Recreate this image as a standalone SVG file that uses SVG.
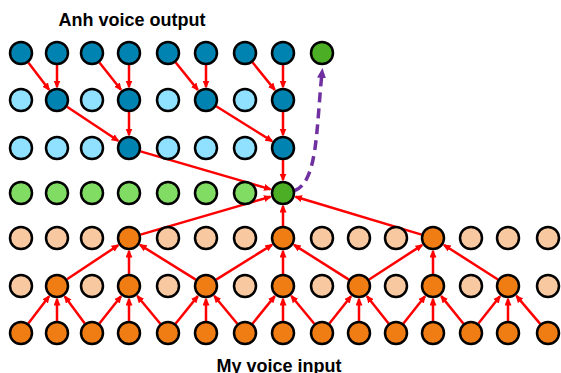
<svg xmlns="http://www.w3.org/2000/svg" width="561" height="373" viewBox="0 0 561 373">
  <style>
    .n { stroke: #000; stroke-width: 2.5; }
    .db { fill: #0083B0; }
    .lb { fill: #90E0FF; }
    .dg { fill: #4BAE25; }
    .lg { fill: #80DC62; }
    .or { fill: #F07C14; }
    .pe { fill: #F8C8A0; }
    .e { stroke: #FF0000; stroke-width: 2.5; fill: none; marker-end: url(#ah); }
    .gen { stroke: #7030A0; stroke-width: 3.5; fill: none; stroke-dasharray: 10 6; marker-end: url(#ahp); }
    .t { font-family: "Liberation Sans", Arial, sans-serif; font-weight: bold; font-size: 18px; fill: #000; text-anchor: middle; }
  </style>
  <defs>
    <marker id="ah" markerUnits="userSpaceOnUse" markerWidth="9" markerHeight="8" refX="6.5" refY="3.5" orient="auto">
      <path d="M0,0 L8,3.5 L0,7 z" fill="#FF0000"/>
    </marker>
    <marker id="ahp" markerUnits="userSpaceOnUse" markerWidth="11" markerHeight="10" refX="5" refY="4.5" orient="auto">
      <path d="M0,0 L10,4.5 L0,9 z" fill="#7030A0"/>
    </marker>
    <circle id="c" r="11"/>
  </defs>

  <text class="t" x="132" y="26">Anh voice output</text>
  <text class="t" x="279" y="372">My voice input</text>

  <g id="connectors">
    <!-- input layer -> first hidden layer (dilation 1) -->
    <line class="e" x1="28.3" y1="323.5" x2="49.1" y2="296.3"/>
    <line class="e" x1="57" y1="321" x2="57" y2="299"/>
    <line class="e" x1="84.8" y1="323.4" x2="64.8" y2="296.4"/>
    <line class="e" x1="99.4" y1="323.6" x2="121" y2="296.2"/>
    <line class="e" x1="129" y1="321" x2="129" y2="299"/>
    <line class="e" x1="160.3" y1="323.8" x2="137.3" y2="296"/>
    <line class="e" x1="175.5" y1="323.7" x2="197.8" y2="296.1"/>
    <line class="e" x1="206" y1="321" x2="206" y2="299"/>
    <line class="e" x1="237.3" y1="323.8" x2="214.3" y2="296"/>
    <line class="e" x1="252.5" y1="323.7" x2="274.8" y2="296.1"/>
    <line class="e" x1="283" y1="321" x2="283" y2="299"/>
    <line class="e" x1="314.3" y1="323.8" x2="291.3" y2="296"/>
    <line class="e" x1="329.4" y1="323.6" x2="351" y2="296.2"/>
    <line class="e" x1="359" y1="321" x2="359" y2="299"/>
    <line class="e" x1="388.6" y1="323.6" x2="367" y2="296.2"/>
    <line class="e" x1="403.4" y1="323.6" x2="425" y2="296.2"/>
    <line class="e" x1="433" y1="321" x2="433" y2="299"/>
    <line class="e" x1="463.5" y1="323.7" x2="441.2" y2="296.1"/>
    <line class="e" x1="478.4" y1="323.6" x2="500" y2="296.2"/>
    <line class="e" x1="508" y1="321" x2="508" y2="299"/>
    <line class="e" x1="540.2" y1="323.9" x2="516.4" y2="295.9"/>
    <!-- first hidden -> second hidden (dilation 2) -->
    <line class="e" x1="67" y1="279.3" x2="118.2" y2="245.2"/>
    <line class="e" x1="129" y1="274" x2="129" y2="251"/>
    <line class="e" x1="195.8" y1="279.6" x2="140" y2="244.9"/>
    <line class="e" x1="216.2" y1="279.6" x2="272" y2="244.9"/>
    <line class="e" x1="283" y1="274" x2="283" y2="251"/>
    <line class="e" x1="348.9" y1="279.6" x2="294" y2="244.9"/>
    <line class="e" x1="369.1" y1="279.5" x2="422.1" y2="245.1"/>
    <line class="e" x1="433" y1="274" x2="433" y2="251"/>
    <line class="e" x1="497.9" y1="279.5" x2="444" y2="245"/>
    <!-- second hidden -> bottleneck -->
    <line class="e" x1="140.5" y1="234.6" x2="270.5" y2="196.7"/>
    <line class="e" x1="283" y1="226" x2="283" y2="206"/>
    <line class="e" x1="421.5" y1="234.6" x2="295.5" y2="196.7"/>
    <!-- decoder side: upper layers -> bottleneck -->
    <line class="e" x1="140.5" y1="151.4" x2="270.5" y2="189.3"/>
    <line class="e" x1="283" y1="160" x2="283" y2="180"/>
    <line class="e" x1="67" y1="106.7" x2="118.2" y2="140.8"/>
    <line class="e" x1="129" y1="112" x2="129" y2="135"/>
    <line class="e" x1="216.2" y1="106.3" x2="272" y2="141.1"/>
    <line class="e" x1="283" y1="112" x2="283" y2="135"/>
    <line class="e" x1="28.3" y1="62.5" x2="49.1" y2="89.7"/>
    <line class="e" x1="57" y1="65" x2="57" y2="87"/>
    <line class="e" x1="99.4" y1="62.4" x2="121" y2="89.8"/>
    <line class="e" x1="129" y1="65" x2="129" y2="87"/>
    <line class="e" x1="175.5" y1="62.3" x2="197.8" y2="89.9"/>
    <line class="e" x1="206" y1="65" x2="206" y2="87"/>
    <line class="e" x1="252.5" y1="62.3" x2="274.8" y2="89.9"/>
    <line class="e" x1="283" y1="65" x2="283" y2="87"/>
    <!-- generated sample fed to the output -->
    <path class="gen" d="M294,191 C318,182 316,130 322,73"/>
  </g>

  <!-- output row -->
  <g id="o1"><use href="#c" class="n db" x="21" y="53"/></g>
  <g id="o2"><use href="#c" class="n db" x="57" y="53"/></g>
  <g id="o3"><use href="#c" class="n db" x="92" y="53"/></g>
  <g id="o4"><use href="#c" class="n db" x="129" y="53"/></g>
  <g id="o5"><use href="#c" class="n db" x="168" y="53"/></g>
  <g id="o6"><use href="#c" class="n db" x="206" y="53"/></g>
  <g id="o7"><use href="#c" class="n db" x="245" y="53"/></g>
  <g id="o8"><use href="#c" class="n db" x="283" y="53"/></g>
  <g id="o9"><use href="#c" class="n dg" x="322" y="53"/></g>
  <!-- upper layer 2 -->
  <g id="u1"><use href="#c" class="n lb" x="21" y="100"/></g>
  <g id="u2"><use href="#c" class="n db" x="57" y="100"/></g>
  <g id="u3"><use href="#c" class="n lb" x="92" y="100"/></g>
  <g id="u4"><use href="#c" class="n db" x="129" y="100"/></g>
  <g id="u5"><use href="#c" class="n lb" x="168" y="100"/></g>
  <g id="u6"><use href="#c" class="n db" x="206" y="100"/></g>
  <g id="u7"><use href="#c" class="n lb" x="245" y="100"/></g>
  <g id="u8"><use href="#c" class="n db" x="283" y="100"/></g>
  <!-- upper layer 3 -->
  <g id="v1"><use href="#c" class="n lb" x="21" y="148"/></g>
  <g id="v2"><use href="#c" class="n lb" x="57" y="148"/></g>
  <g id="v3"><use href="#c" class="n lb" x="92" y="148"/></g>
  <g id="v4"><use href="#c" class="n db" x="129" y="148"/></g>
  <g id="v5"><use href="#c" class="n lb" x="168" y="148"/></g>
  <g id="v6"><use href="#c" class="n lb" x="206" y="148"/></g>
  <g id="v7"><use href="#c" class="n lb" x="245" y="148"/></g>
  <g id="v8"><use href="#c" class="n db" x="283" y="148"/></g>
  <!-- bottleneck row -->
  <g id="b1"><use href="#c" class="n lg" x="21" y="193"/></g>
  <g id="b2"><use href="#c" class="n lg" x="57" y="193"/></g>
  <g id="b3"><use href="#c" class="n lg" x="92" y="193"/></g>
  <g id="b4"><use href="#c" class="n lg" x="129" y="193"/></g>
  <g id="b5"><use href="#c" class="n lg" x="168" y="193"/></g>
  <g id="b6"><use href="#c" class="n lg" x="206" y="193"/></g>
  <g id="b7"><use href="#c" class="n lg" x="245" y="193"/></g>
  <g id="b8"><use href="#c" class="n dg" x="283" y="193"/></g>
  <!-- second hidden layer -->
  <g id="h2_1"><use href="#c" class="n pe" x="21" y="238"/></g>
  <g id="h2_2"><use href="#c" class="n pe" x="57" y="238"/></g>
  <g id="h2_3"><use href="#c" class="n pe" x="92" y="238"/></g>
  <g id="h2_4"><use href="#c" class="n or" x="129" y="238"/></g>
  <g id="h2_5"><use href="#c" class="n pe" x="168" y="238"/></g>
  <g id="h2_6"><use href="#c" class="n pe" x="206" y="238"/></g>
  <g id="h2_7"><use href="#c" class="n pe" x="245" y="238"/></g>
  <g id="h2_8"><use href="#c" class="n or" x="283" y="238"/></g>
  <g id="h2_9"><use href="#c" class="n pe" x="322" y="238"/></g>
  <g id="h2_10"><use href="#c" class="n pe" x="359" y="238"/></g>
  <g id="h2_11"><use href="#c" class="n pe" x="396" y="238"/></g>
  <g id="h2_12"><use href="#c" class="n or" x="433" y="238"/></g>
  <g id="h2_13"><use href="#c" class="n pe" x="471" y="238"/></g>
  <g id="h2_14"><use href="#c" class="n pe" x="508" y="238"/></g>
  <g id="h2_15"><use href="#c" class="n pe" x="548" y="238"/></g>
  <!-- first hidden layer -->
  <g id="h1_1"><use href="#c" class="n pe" x="21" y="286"/></g>
  <g id="h1_2"><use href="#c" class="n or" x="57" y="286"/></g>
  <g id="h1_3"><use href="#c" class="n pe" x="92" y="286"/></g>
  <g id="h1_4"><use href="#c" class="n or" x="129" y="286"/></g>
  <g id="h1_5"><use href="#c" class="n pe" x="168" y="286"/></g>
  <g id="h1_6"><use href="#c" class="n or" x="206" y="286"/></g>
  <g id="h1_7"><use href="#c" class="n pe" x="245" y="286"/></g>
  <g id="h1_8"><use href="#c" class="n or" x="283" y="286"/></g>
  <g id="h1_9"><use href="#c" class="n pe" x="322" y="286"/></g>
  <g id="h1_10"><use href="#c" class="n or" x="359" y="286"/></g>
  <g id="h1_11"><use href="#c" class="n pe" x="396" y="286"/></g>
  <g id="h1_12"><use href="#c" class="n or" x="433" y="286"/></g>
  <g id="h1_13"><use href="#c" class="n pe" x="471" y="286"/></g>
  <g id="h1_14"><use href="#c" class="n or" x="508" y="286"/></g>
  <g id="h1_15"><use href="#c" class="n pe" x="548" y="286"/></g>
  <!-- input row -->
  <g id="i1"><use href="#c" class="n or" x="21" y="333"/></g>
  <g id="i2"><use href="#c" class="n or" x="57" y="333"/></g>
  <g id="i3"><use href="#c" class="n or" x="92" y="333"/></g>
  <g id="i4"><use href="#c" class="n or" x="129" y="333"/></g>
  <g id="i5"><use href="#c" class="n or" x="168" y="333"/></g>
  <g id="i6"><use href="#c" class="n or" x="206" y="333"/></g>
  <g id="i7"><use href="#c" class="n or" x="245" y="333"/></g>
  <g id="i8"><use href="#c" class="n or" x="283" y="333"/></g>
  <g id="i9"><use href="#c" class="n or" x="322" y="333"/></g>
  <g id="i10"><use href="#c" class="n or" x="359" y="333"/></g>
  <g id="i11"><use href="#c" class="n or" x="396" y="333"/></g>
  <g id="i12"><use href="#c" class="n or" x="433" y="333"/></g>
  <g id="i13"><use href="#c" class="n or" x="471" y="333"/></g>
  <g id="i14"><use href="#c" class="n or" x="508" y="333"/></g>
  <g id="i15"><use href="#c" class="n or" x="548" y="333"/></g>
</svg>
